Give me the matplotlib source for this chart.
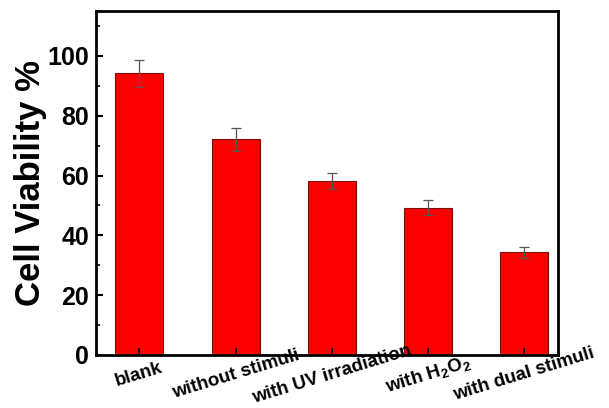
import numpy as np
import matplotlib.pyplot as plt
from matplotlib.ticker import MultipleLocator

# cell viability under different treatments
groups = ['blank', 'without stimuli', 'with UV irradiation',
          'with H$_2$O$_2$', 'with dual stimuli']
viability = [94.2, 72.1, 58.2, 49.3, 34.3]
errors = [4.5, 3.8, 2.8, 2.4, 1.8]

plt.rcParams['font.family'] = ['Liberation Sans', 'DejaVu Sans']
plt.rcParams['font.weight'] = 'bold'
plt.rcParams['mathtext.fontset'] = 'custom'
plt.rcParams['mathtext.rm'] = 'Liberation Sans:bold'
plt.rcParams['mathtext.it'] = 'Liberation Sans:bold'

fig = plt.figure(figsize=(6.09, 4.08), dpi=100)
ax = fig.add_axes([96 / 609, 53 / 408, 462 / 609, 344 / 408])
ax.set_axisbelow(False)

x = np.arange(1, len(groups) + 1)
ax.bar(x, viability, width=0.5, color='#ff0000', edgecolor='#7a1010',
       linewidth=0.8, zorder=2)
ax.errorbar(x, viability, yerr=errors, fmt='none', ecolor='#555555',
            elinewidth=0.9, capsize=3.5, capthick=0.9, zorder=3)

ax.set_xlim(0.55, 5.35)
ax.set_ylim(0, 115)
ax.yaxis.set_major_locator(MultipleLocator(20))
ax.yaxis.set_minor_locator(MultipleLocator(10))
ax.set_xticks(x)
ax.set_xticklabels(groups, rotation=17, rotation_mode='anchor',
                   ha='center', va='center', fontsize=13.5, fontweight='bold')
ax.tick_params(axis='x', direction='in', length=5, width=1.2, pad=14)
ax.tick_params(axis='y', which='major', direction='in', length=5, width=1.5,
               labelsize=18, pad=5)
ax.tick_params(axis='y', which='minor', direction='in', length=3, width=1.2)
for lbl in ax.get_yticklabels():
    lbl.set_fontweight('bold')
for sp in ax.spines.values():
    sp.set_linewidth(2)

ax.set_ylabel('Cell Viability %', fontsize=25, fontweight='bold', labelpad=0)

fig.savefig('out.png', dpi=100)
